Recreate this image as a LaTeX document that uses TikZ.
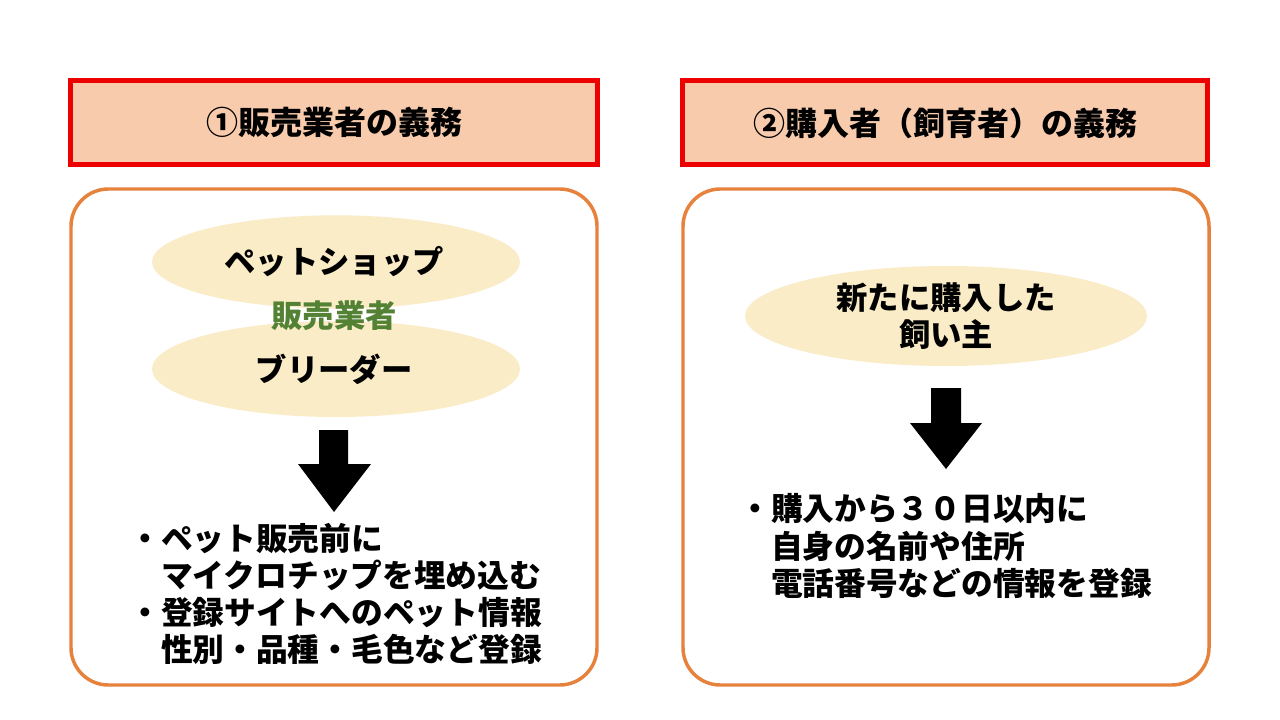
\documentclass[tikz,border=0pt]{standalone}
\usepackage{fontspec}
\setmainfont{Noto Sans CJK JP}
\usetikzlibrary{shapes.geometric}
\definecolor{peach}{RGB}{248,203,173}
\definecolor{redline}{RGB}{236,0,0}
\definecolor{orangeline}{RGB}{230,130,60}
\definecolor{cream}{RGB}{251,236,200}
\definecolor{greentext}{RGB}{84,130,53}
\tikzset{
  titlebox/.style={draw=redline, fill=peach, line width=3.75pt, minimum height=63pt,
    font=\fontsize{24}{28}\selectfont\bfseries, inner sep=0pt},
  panel/.style={draw=orangeline, line width=2.6pt, rounded corners=28pt,
    minimum width=394.5pt, minimum height=372pt, inner sep=0pt},
  cloud/.style={ellipse, fill=cream, inner sep=0pt},
  bodytext/.style={font=\fontsize{23.5}{28}\selectfont\bfseries, inner sep=0pt},
  listtext/.style={font=\fontsize{23.8}{27.8}\selectfont\bfseries, align=left, inner sep=0pt, anchor=west},
  blockarrow/.style={fill=black}
}
\begin{document}
\begin{tikzpicture}[x=0.75pt,y=-0.75pt]
\useasboundingbox (0,0) rectangle (1280,720);
\fill[white] (0,0) rectangle (1280,720);

% titles
\node[titlebox, minimum width=395.25pt] (t1) at (334,122.5) {①販売業者の義務};
\node[titlebox, minimum width=393.75pt] (t2) at (945,123) {②購入者（飼育者）の義務};

% panels
\node[panel] (p1) at (334,437) {};
\node[panel] (p2) at (946,437) {};

% left ellipses
\node[cloud, minimum width=276pt, minimum height=70pt] (e1) at (336,262) {};
\node[cloud, minimum width=276pt, minimum height=72pt] (e2) at (336,369) {};
\node[bodytext] (shop) at (334,262) {ペットショップ};
\node[bodytext, text=greentext] (seller) at (334,316) {販売業者};
\node[bodytext] (breeder) at (334,369) {ブリーダー};

% right ellipse
\node[cloud, minimum width=301.5pt, minimum height=75pt, align=center,
      font=\fontsize{23.5}{27.8}\selectfont\bfseries] (owner) at (946,316) {新たに購入した\\飼い主};

% arrows
\fill[blockarrow] (319,430) -- (348,430) -- (348,464) -- (371,464) -- (334,512)
  -- (298,464) -- (319,464) -- cycle;
\fill[blockarrow] (931,388) -- (961,388) -- (961,423) -- (982,423) -- (946,469)
  -- (910,423) -- (931,423) -- cycle;

% lists
\node[listtext] (l1) at (129,594) {・ペット販売前に\\　マイクロチップを埋め込む\\・登録サイトへのペット情報\\　性別・品種・毛色など登録};
\node[listtext] (l2) at (739,546) {・購入から３０日以内に\\　自身の名前や住所\\　電話番号などの情報を登録};
\end{tikzpicture}
\end{document}
